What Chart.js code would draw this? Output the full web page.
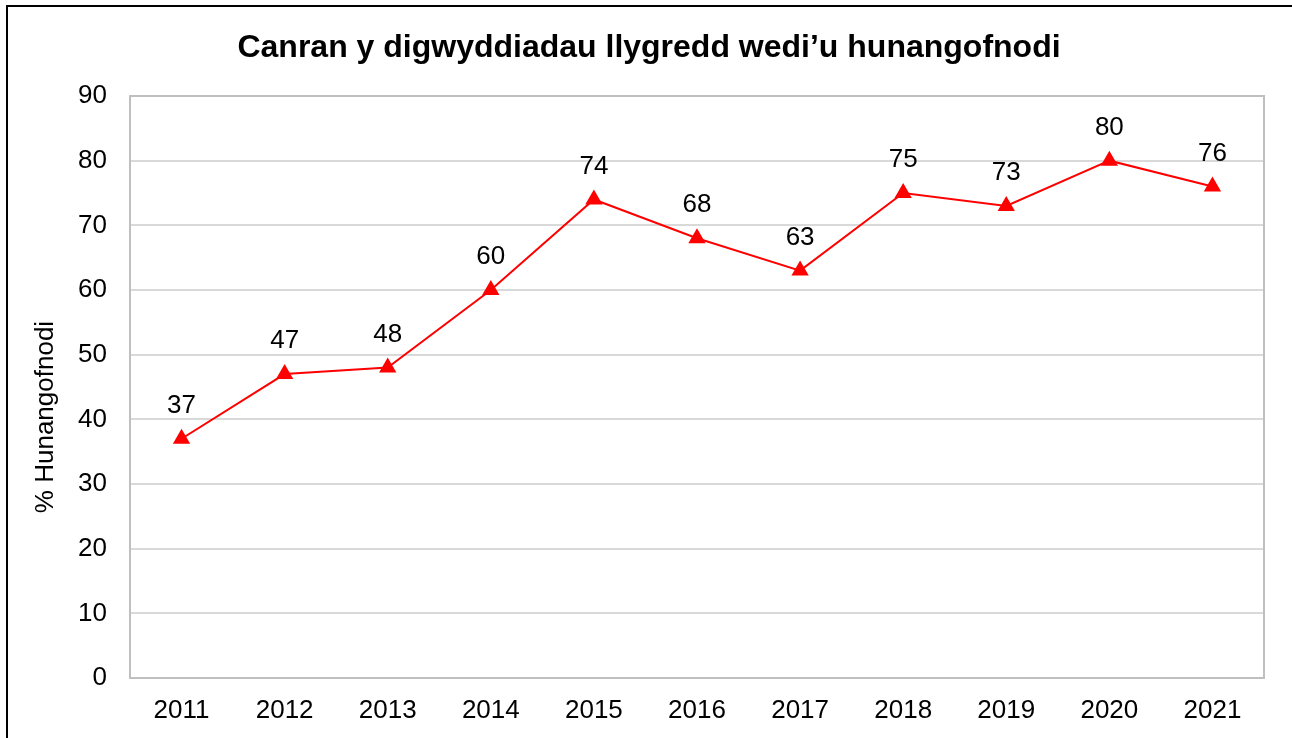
<!DOCTYPE html>
<html>
<head>
<meta charset="utf-8">
<script src="https://cdn.jsdelivr.net/npm/chart.js@4/dist/chart.umd.min.js"></script>
<style>
  html, body { margin: 0; padding: 0; background: #fff; overflow: hidden; }
  #wrap { position: relative; width: 1292px; height: 738px; }
  #frame { position: absolute; left: 6px; top: 5px; width: 1300px; height: 750px; border: 2px solid #000; pointer-events: none; }
  canvas { position: absolute; left: 0; top: 0; }
</style>
</head>
<body>
<div id="wrap">
  <canvas id="chart" width="1292" height="738"></canvas>
  <div id="frame"></div>
</div>
<script>
const years = ['2011', '2012', '2013', '2014', '2015', '2016', '2017', '2018', '2019', '2020', '2021'];
const selfReported = [37, 47, 48, 60, 74, 68, 63, 75, 73, 80, 76];

const chartTitle = 'Canran y digwyddiadau llygredd wedi\u2019u hunangofnodi';
const yTitle = '% Hunangofnodi';

// labels above each point
const pointLabels = {
  id: 'pointLabels',
  afterDatasetsDraw(chart) {
    const ctx = chart.ctx;
    const meta = chart.getDatasetMeta(0);
    ctx.save();
    ctx.font = '26px Arial, "Liberation Sans"';
    ctx.fillStyle = '#000';
    ctx.textAlign = 'center';
    ctx.textBaseline = 'middle';
    meta.data.forEach((pt, i) => {
      ctx.fillText(String(selfReported[i]), pt.x, pt.y - 33);
    });
    ctx.restore();
  }
};

// plot area border
const plotBorder = {
  id: 'plotBorder',
  beforeDatasetsDraw(chart) {
    const { ctx, chartArea: a } = chart;
    ctx.save();
    ctx.strokeStyle = '#bfbfbf';
    ctx.lineWidth = 2;
    ctx.strokeRect(a.left, a.top, a.right - a.left, a.bottom - a.top);
    ctx.restore();
  }
};

// chart title and y axis title, placed like the Excel original
const titles = {
  id: 'titles',
  afterDraw(chart) {
    const ctx = chart.ctx;
    ctx.save();
    ctx.fillStyle = '#000';
    ctx.textAlign = 'center';
    ctx.textBaseline = 'middle';
    ctx.font = 'bold 32px Arial, "Liberation Sans"';
    ctx.fillText(chartTitle, 649, 48);
    ctx.translate(46, 417);
    ctx.rotate(-Math.PI / 2);
    ctx.font = '26px Arial, "Liberation Sans"';
    ctx.fillText(yTitle, 0, 0);
    ctx.restore();
  }
};

Chart.defaults.font.family = 'Arial, "Liberation Sans"';
Chart.defaults.color = '#000';

new Chart(document.getElementById('chart'), {
  type: 'line',
  data: {
    labels: years,
    datasets: [{
      data: selfReported,
      borderColor: '#ff0000',
      backgroundColor: '#ff0000',
      borderWidth: 2,
      pointStyle: 'triangle',
      pointRadius: 8,
      pointHoverRadius: 8,
      tension: 0
    }]
  },
  options: {
    responsive: false,
    animation: false,
    layout: { padding: { left: 0, right: 28, top: 96, bottom: 12 } },
    plugins: {
      legend: { display: false },
      tooltip: { enabled: false },
      title: { display: false }
    },
    scales: {
      x: {
        offset: true,
        grid: { display: false, drawTicks: false },
        border: { display: false },
        ticks: { font: { size: 26 }, padding: 17, maxRotation: 0 },
        afterFit(scale) { scale.height = 48; }
      },
      y: {
        min: 0,
        max: 90,
        border: { display: false },
        grid: { color: '#d9d9d9', lineWidth: 2, drawTicks: false },
        ticks: { stepSize: 10, font: { size: 26 }, padding: 23 },
        afterFit(scale) { scale.width = 130; }
      }
    }
  },
  plugins: [plotBorder, pointLabels, titles]
});
</script>
</body>
</html>
